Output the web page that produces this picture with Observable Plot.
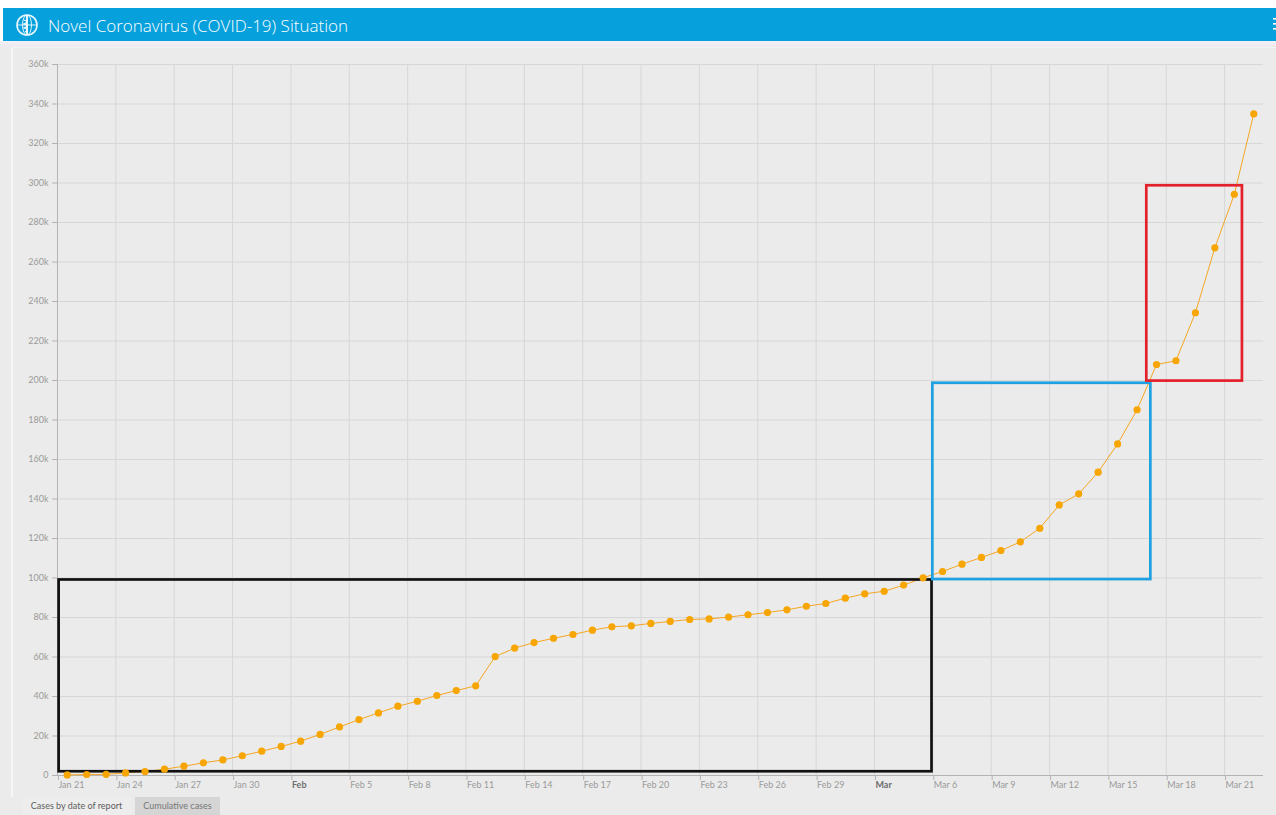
<!DOCTYPE html>
<html>
<head>
<meta charset="utf-8">
<script src="https://cdn.jsdelivr.net/npm/d3@7"></script>
<script src="https://cdn.jsdelivr.net/npm/@observablehq/plot@0.6"></script>
<style>
html,body{margin:0;padding:0;background:#fff;width:1276px;height:815px;overflow:hidden;font-family:Lato,"Open Sans",sans-serif;}
#page{position:absolute;left:0;top:41px;width:1276px;height:774px;background:#ebebeb;}
#strip{position:absolute;left:0;top:41px;width:1276px;height:6px;background:linear-gradient(#f3f1f6,#eceaee);}
#header{position:absolute;left:3px;top:8px;width:1273px;height:33px;background:#06a0dc;}
#title{position:absolute;left:45px;top:6px;color:#fff;font-family:"Open Sans",Lato,sans-serif;font-weight:300;font-size:17px;white-space:nowrap;}
#logo{position:absolute;left:11px;top:4px;}
#menu{position:absolute;left:1267px;top:10px;}
#panel{position:absolute;left:11px;top:47px;width:1265px;height:750px;border-left:2px solid #f7f7f7;border-top:1px solid #f3f3f3;box-sizing:border-box;}
#chart{position:absolute;left:0;top:50px;}
.tab{position:absolute;top:797px;height:18px;font-size:9px;color:#5e5e5e;line-height:18px;text-align:center;}
</style>
</head>
<body>
<div id="page"></div>
<div id="strip"></div>
<div id="panel"></div>
<div id="header">
  <svg id="logo" width="26" height="26" viewBox="0 0 26 26">
    <circle cx="13" cy="13" r="10" fill="none" stroke="#fff" stroke-width="1.6" opacity="0.9"/>
    <ellipse cx="13" cy="13" rx="4.5" ry="10" fill="none" stroke="#fff" stroke-width="1" opacity="0.85"/>
    <line x1="3" y1="13" x2="23" y2="13" stroke="#fff" stroke-width="1" opacity="0.85"/>
    <line x1="13" y1="4" x2="13" y2="22" stroke="#fff" stroke-width="1.8"/>
    <path d="M10 8 Q16 10 10 12 Q16 14 10 16 Q16 18 11 20" fill="none" stroke="#fff" stroke-width="1.3"/>
  </svg>
  <div id="title">Novel Coronavirus (COVID-19) Situation</div>
  <svg id="menu" width="9" height="14">
    <rect x="3" y="0" width="6" height="1.6" fill="#fff"/>
    <rect x="3" y="5" width="6" height="1.6" fill="#fff"/>
    <rect x="3" y="10" width="6" height="1.6" fill="#fff"/>
  </svg>
</div>
<div id="chart"></div>
<div class="tab" style="left:22px;width:109px;background:#ededed;">Cases by date of report</div>
<div class="tab" style="left:135px;width:85px;background:#d5d5d5;color:#777;">Cumulative cases</div>
<script>
// ---- data ----
const reportDates = [
  "01-21","01-22","01-23","01-24","01-25","01-26","01-27","01-28","01-29","01-30","01-31",
  "02-01","02-02","02-03","02-04","02-05","02-06","02-07","02-08","02-09","02-10","02-11",
  "02-12","02-13","02-14","02-15","02-16","02-17","02-18","02-19","02-20","02-21","02-22",
  "02-23","02-24","02-25","02-26","02-27","02-28","02-29","03-01","03-02","03-03","03-04",
  "03-05","03-06","03-07","03-08","03-09","03-10","03-11","03-12","03-13","03-14","03-15",
  "03-16","03-17","03-18","03-19","03-20","03-21","03-22"
];
const cumulativeCases = [
  280, 500, 600, 1300, 2000, 3200, 4700, 6400, 7900, 10000, 12300,
  14700, 17400, 20800, 24600, 28300, 31700, 35100, 37600, 40500, 43000, 45400,
  60200, 64500, 67300, 69500, 71400, 73600, 75300, 75800, 77000, 78000, 79000,
  79300, 80200, 81400, 82500, 83900, 85700, 87100, 89800, 92000, 93300, 96400,
  100100, 103300, 107000, 110400, 113900, 118300, 125200, 137000, 142600, 153600, 167900,
  185200, 208100, 210000, 234300, 267200, 294300, 335000
];
const xDomain = ["2020-01-21T00:00Z", "2020-03-23T00:00Z"];
const yDomain = [0, 360000];
const yTickValues = [0,20000,40000,60000,80000,100000,120000,140000,160000,180000,200000,220000,240000,260000,280000,300000,320000,340000,360000];
const yTickLabels = ["0","20k","40k","60k","80k","100k","120k","140k","160k","180k","200k","220k","240k","260k","280k","300k","320k","340k","360k"];
const xTickDates = ["01-21","01-24","01-27","01-30","02-02","02-05","02-08","02-11","02-14","02-17","02-20","02-23","02-26","02-29","03-03","03-06","03-09","03-12","03-15","03-18","03-21"];
const xTickLabels = ["Jan 21","Jan 24","Jan 27","Jan 30","Feb","Feb 5","Feb 8","Feb 11","Feb 14","Feb 17","Feb 20","Feb 23","Feb 26","Feb 29","Mar","Mar 6","Mar 9","Mar 12","Mar 15","Mar 18","Mar 21"];
const monthLabels = ["Feb","Mar"];
// annotation boxes
const boxStart = ["2020-01-21T02:00Z","2020-03-06T00:00Z","2020-03-17T00:00Z"];
const boxEnd   = ["2020-03-05T23:00Z","2020-03-17T05:00Z","2020-03-21T22:00Z"];
const boxLow   = [1900, 99200, 199700];
const boxHigh  = [99000, 198600, 298600];
const boxColor = ["#111111","#1ea1e1","#e3212c"];

// ---- build tables ----
const points = reportDates.map((d, i) => ({date: new Date(`2020-${d}T12:00Z`), cases: cumulativeCases[i]}));
const tickTimes = xTickDates.map(d => new Date(`2020-${d}T00:00Z`));
const tickLabelOf = new Map(tickTimes.map((t, i) => [+t, xTickLabels[i]]));
const normalTicks = tickTimes.filter((t, i) => !monthLabels.includes(xTickLabels[i]));
const monthTicks = tickTimes.filter((t, i) => monthLabels.includes(xTickLabels[i]));
const yLabelOf = new Map(yTickValues.map((v, i) => [v, yTickLabels[i]]));
const boxes = boxStart.map((s, i) => ({x1: new Date(s), x2: new Date(boxEnd[i]), y1: boxLow[i], y2: boxHigh[i], color: boxColor[i]}));

const gridColor = "#d7d7d7";
const axisColor = "#b3b3b3";

const chart = Plot.plot({
  width: 1276,
  height: 747,
  marginLeft: 57,
  marginRight: 13,
  marginTop: 14,
  marginBottom: 22,
  style: {background: "transparent", fontFamily: "Lato, 'Open Sans', sans-serif", fontSize: "9px", color: "#999"},
  x: {type: "utc", domain: xDomain.map(d => new Date(d))},
  y: {domain: yDomain},
  marks: [
    Plot.gridY({ticks: yTickValues, stroke: gridColor, strokeOpacity: 1}),
    Plot.gridX({ticks: tickTimes, stroke: gridColor, strokeOpacity: 1}),
    Plot.axisY({ticks: yTickValues, tickFormat: v => yLabelOf.get(v), tickSize: 5, tickPadding: 4, stroke: axisColor, fill: "#9a9a9a", label: null}),
    Plot.axisX({ticks: normalTicks, tickFormat: t => tickLabelOf.get(+t), tickSize: 5, tickPadding: 1, textAnchor: "start", dx: 1, stroke: axisColor, fill: "#9a9a9a", label: null}),
    Plot.axisX({ticks: monthTicks, tickFormat: t => tickLabelOf.get(+t), tickSize: 5, tickPadding: 1, textAnchor: "start", dx: 1, stroke: axisColor, fill: "#6e6e6e", fontWeight: "bold", label: null}),
    Plot.ruleX([xDomain[0]], {x: d => new Date(d), stroke: axisColor}),
    Plot.ruleY([0], {stroke: axisColor}),
    Plot.line(points, {x: "date", y: "cases", stroke: "#f5a623", strokeWidth: 1}),
    Plot.rect(boxes, {x1: "x1", x2: "x2", y1: "y1", y2: "y2", stroke: "color", fill: "none", strokeWidth: 2.7}),
    Plot.dot(points, {x: "date", y: "cases", r: 3.6, fill: "#f7a500", stroke: "none"})
  ]
});
document.getElementById("chart").appendChild(chart);
</script>
</body>
</html>
